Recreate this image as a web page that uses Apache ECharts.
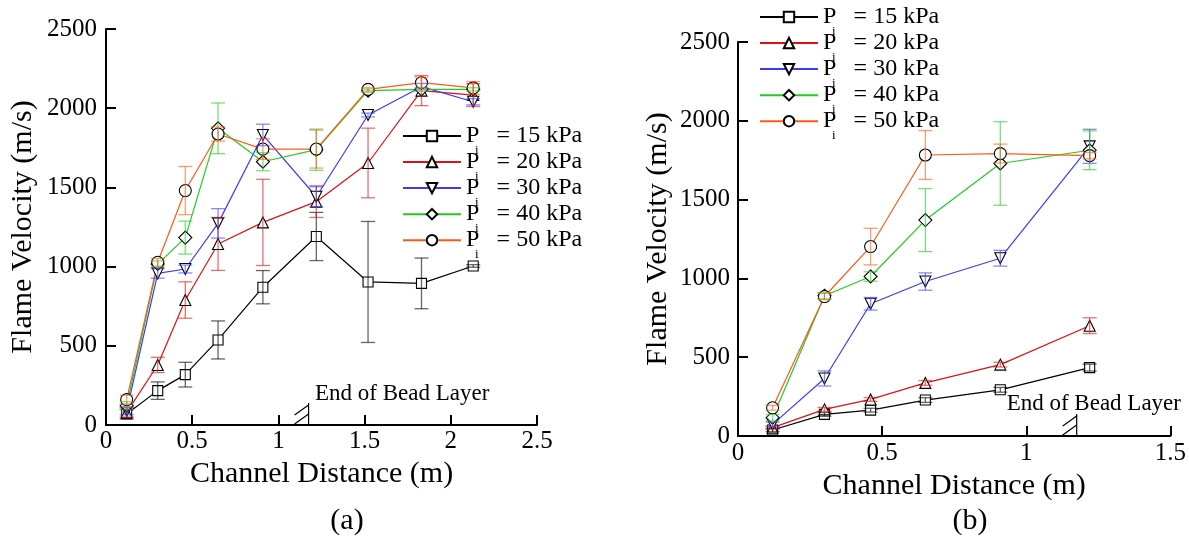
<!DOCTYPE html>
<html>
<head>
<meta charset="utf-8">
<script src="https://cdn.jsdelivr.net/npm/echarts@6/dist/echarts.min.js"></script>
<style>
html,body{margin:0;padding:0;background:#fff;}
#c{width:1189px;height:537px;}
#fp{position:absolute;left:-9999px;top:0;font-family:'Liberation Serif';font-size:24px;}
</style>
</head>
<body>
<div id="fp">Flame Velocity 0123456789 Channel Distance</div>
<div id="c"></div>
<script>
// ---------- data ----------
const seriesNames = ['15 kPa', '20 kPa', '30 kPa', '40 kPa', '50 kPa'];

// (a) channel distances (m)
const xA = [0.12, 0.30, 0.46, 0.65, 0.91, 1.22, 1.52, 1.83, 2.13];
const v15a = [69, 217, 318, 537, 870, 1190, 903, 894, 1004];
const e15a = [30, 55, 78, 120, 105, 152, 382, 160, 8];
const v20a = [80, 379, 789, 1143, 1279, 1410, 1654, 2111, 2083];
const e20a = [30, 48, 115, 167, 272, 100, 220, 95, 72];
const v30a = [90, 957, 985, 1273, 1831, 1441, 1957, 2136, 2041];
const e30a = [25, 30, 25, 93, 68, 63, 12, 20, 20];
const v40a = [122, 1016, 1183, 1873, 1662, 1738, 2111, 2119, 2119];
const e40a = [25, 20, 104, 160, 57, 130, 10, 12, 10];
const v50a = [160, 1027, 1480, 1837, 1742, 1742, 2119, 2161, 2128];
const e50a = [28, 25, 152, 45, 65, 120, 10, 35, 40];

// (b) channel distances (m)
const xB = [0.12, 0.30, 0.46, 0.65, 0.91, 1.22];
const v15b = [38, 137, 164, 228, 293, 434];
const e15b = [10, 12, 12, 15, 15, 22];
const v20b = [53, 169, 232, 337, 453, 700];
const e20b = [10, 12, 12, 15, 15, 50];
const v30b = [74, 365, 839, 980, 1128, 1838];
const e30b = [15, 48, 40, 55, 50, 108];
const v40b = [116, 890, 1012, 1370, 1729, 1813];
const e40b = [20, 20, 30, 200, 265, 123];
const v50b = [179, 885, 1202, 1783, 1792, 1779];
const e50b = [15, 20, 116, 155, 60, 20];

const beadLayerEnd = 1.175; // m
const beadLabel = 'End of Bead Layer';

// ---------- styling ----------
const FONT = 'Liberation Serif';
const colors = ['#000000', '#e01010', '#3a3aff', '#1fcc1f', '#ff5a14'];
const symbols = ['rect', 'triangle', 'path://M0,0L10,0L5,9Z', 'diamond', 'circle'];
const symbolSizes = [10, 11, 11, 13, 12];

const valsA = [v15a, v20a, v30a, v40a, v50a];
const errsA = [e15a, e20a, e30a, e40a, e50a];
const valsB = [v15b, v20b, v30b, v40b, v50b];
const errsB = [e15b, e20b, e30b, e40b, e50b];

function errRenderer(color) {
  return function (params, api) {
    const x = api.value(0), lo = api.value(1), hi = api.value(2);
    const p1 = api.coord([x, hi]);
    const p2 = api.coord([x, lo]);
    const hw = 7;
    const st = { stroke: color, lineWidth: 1.3, opacity: 0.6 };
    return {
      type: 'group',
      children: [
        { type: 'line', shape: { x1: p1[0], y1: p1[1], x2: p2[0], y2: p2[1] }, style: st },
        { type: 'line', shape: { x1: p1[0] - hw, y1: p1[1], x2: p1[0] + hw, y2: p1[1] }, style: st },
        { type: 'line', shape: { x1: p2[0] - hw, y1: p2[1], x2: p2[0] + hw, y2: p2[1] }, style: st }
      ]
    };
  };
}

function beadRenderer(labelX, labelY) {
  return function (params, api) {
    const p = api.coord([api.value(0), api.value(1)]);
    const t = api.coord([labelX, labelY]);
    const st = { stroke: '#000', lineWidth: 1.2 };
    return {
      type: 'group',
      children: [
        { type: 'line', shape: { x1: p[0], y1: p[1], x2: p[0], y2: p[1] - 22 }, style: st },
        { type: 'line', shape: { x1: p[0] - 14, y1: p[1] - 1, x2: p[0], y2: p[1] - 11 }, style: st },
        { type: 'line', shape: { x1: p[0] - 14, y1: p[1] - 10, x2: p[0], y2: p[1] - 20 }, style: st },
        { type: 'text', x: t[0], y: t[1], style: { text: beadLabel, font: '23px "Liberation Serif"', fill: '#000', align: 'left', verticalAlign: 'middle' } }
      ]
    };
  };
}

function buildSeries(idx, xs, vals, errs, labelX, labelY) {
  const out = [];
  for (let i = 0; i < 5; i++) {
    out.push({
      type: 'line',
      name: seriesNames[i],
      xAxisIndex: idx, yAxisIndex: idx,
      data: xs.map((x, k) => [x, vals[i][k]]),
      symbol: symbols[i],
      symbolSize: symbolSizes[i],
      showAllSymbol: true,
      itemStyle: { color: '#ffffff', borderColor: '#000', borderWidth: 1.1 },
      lineStyle: { color: colors[i], width: 1.2 },
      emphasis: { disabled: true },
      z: 3, silent: true
    });
  }
  for (let i = 0; i < 5; i++) {
    out.push({
      type: 'custom',
      name: seriesNames[i] + ' err' + idx,
      xAxisIndex: idx, yAxisIndex: idx,
      renderItem: errRenderer(colors[i]),
      data: xs.map((x, k) => [x, vals[i][k] - errs[i][k], vals[i][k] + errs[i][k]]),
      encode: { x: 0, y: [1, 2] },
      z: 4, silent: true, clip: false
    });
  }
  out.push({
    type: 'custom',
    name: 'bead' + idx,
    xAxisIndex: idx, yAxisIndex: idx,
    renderItem: beadRenderer(labelX, labelY),
    data: [[beadLayerEnd, 0]],
    z: 5, silent: true, clip: false
  });
  return out;
}

const plainNum = v => String(v);

function xAxisCfg(idx, max, margin) {
  return {
    type: 'value', gridIndex: idx, min: 0, max: max, interval: 0.5,
    name: 'Channel Distance (m)', nameLocation: 'middle', nameGap: 32,
    nameTextStyle: { fontSize: 30, fontFamily: FONT, color: '#000' },
    axisLine: { show: true, onZero: false, lineStyle: { color: '#000', width: 2 } },
    axisTick: { show: true, inside: true, length: 10, lineStyle: { color: '#000', width: 2 } },
    axisLabel: { fontSize: 25, fontFamily: FONT, color: '#000', margin: margin, formatter: plainNum },
    splitLine: { show: false }
  };
}
function yAxisCfg(idx, gap, margin) {
  return {
    type: 'value', gridIndex: idx, min: 0, max: 2500, interval: 500,
    name: 'Flame Velocity (m/s)', nameLocation: 'middle', nameGap: gap, nameRotate: 90,
    nameTextStyle: { fontSize: 30, fontFamily: FONT, color: '#000' },
    axisLine: { show: true, onZero: false, lineStyle: { color: '#000', width: 2 } },
    axisTick: { show: true, inside: true, length: 10, lineStyle: { color: '#000', width: 2 } },
    axisLabel: { fontSize: 25, fontFamily: FONT, color: '#000', margin: margin, formatter: plainNum },
    splitLine: { show: false }
  };
}
function legendCfg(left, top) {
  return {
    data: seriesNames, orient: 'vertical', left: left, top: top, padding: 0,
    itemWidth: 58, itemHeight: 13, itemGap: -15.95, selectedMode: false,
    formatter: n => '{p|P}{s|i}{t|   = ' + n + '}',
    textStyle: {
      color: '#000', fontFamily: FONT, fontSize: 24,
      rich: {
        p: { fontSize: 24, fontFamily: FONT, color: '#000', lineHeight: 24, width: 9 },
        s: { fontSize: 13, fontFamily: FONT, color: '#000', lineHeight: 13, padding: [29, 0, 0, 0] },
        t: { fontSize: 24, fontFamily: FONT, color: '#000', lineHeight: 24 }
      }
    }
  };
}

const option = {
  animation: false,
  backgroundColor: '#fff',
  textStyle: { fontFamily: FONT },
  title: [
    { text: '(a)', left: 347, top: 506.5, textAlign: 'center', padding: 0, textStyle: { fontSize: 30, fontWeight: 'normal', fontFamily: FONT, color: '#000' } },
    { text: '(b)', left: 970, top: 506.5, textAlign: 'center', padding: 0, textStyle: { fontSize: 30, fontWeight: 'normal', fontFamily: FONT, color: '#000' } }
  ],
  grid: [
    { left: 106, top: 29, width: 431, height: 396 },
    { left: 738, top: 42, width: 433, height: 394 }
  ],
  xAxis: [xAxisCfg(0, 2.5, 4), xAxisCfg(1, 1.5, 5)],
  yAxis: [yAxisCfg(0, 68, 9), yAxisCfg(1, 65, 8)],
  legend: [legendCfg(402, 115), legendCfg(759, -4)],
  series: [].concat(
    buildSeries(0, xA, valsA, errsA, 1.212, 194),
    buildSeries(1, xB, valsB, errsB, 0.932, 202)
  )
};

const chart = echarts.init(document.getElementById('c'), null, { renderer: 'canvas' });
chart.setOption(option);
function redraw() { chart.clear(); chart.setOption(option, true); }
if (document.fonts && document.fonts.load) {
  Promise.all([
    document.fonts.load('25px "Liberation Serif"'),
    document.fonts.load('30px "Liberation Serif"'),
    document.fonts.load('13px "Liberation Serif"')
  ]).then(redraw, redraw);
  document.fonts.ready.then(redraw);
}
</script>
</body>
</html>
